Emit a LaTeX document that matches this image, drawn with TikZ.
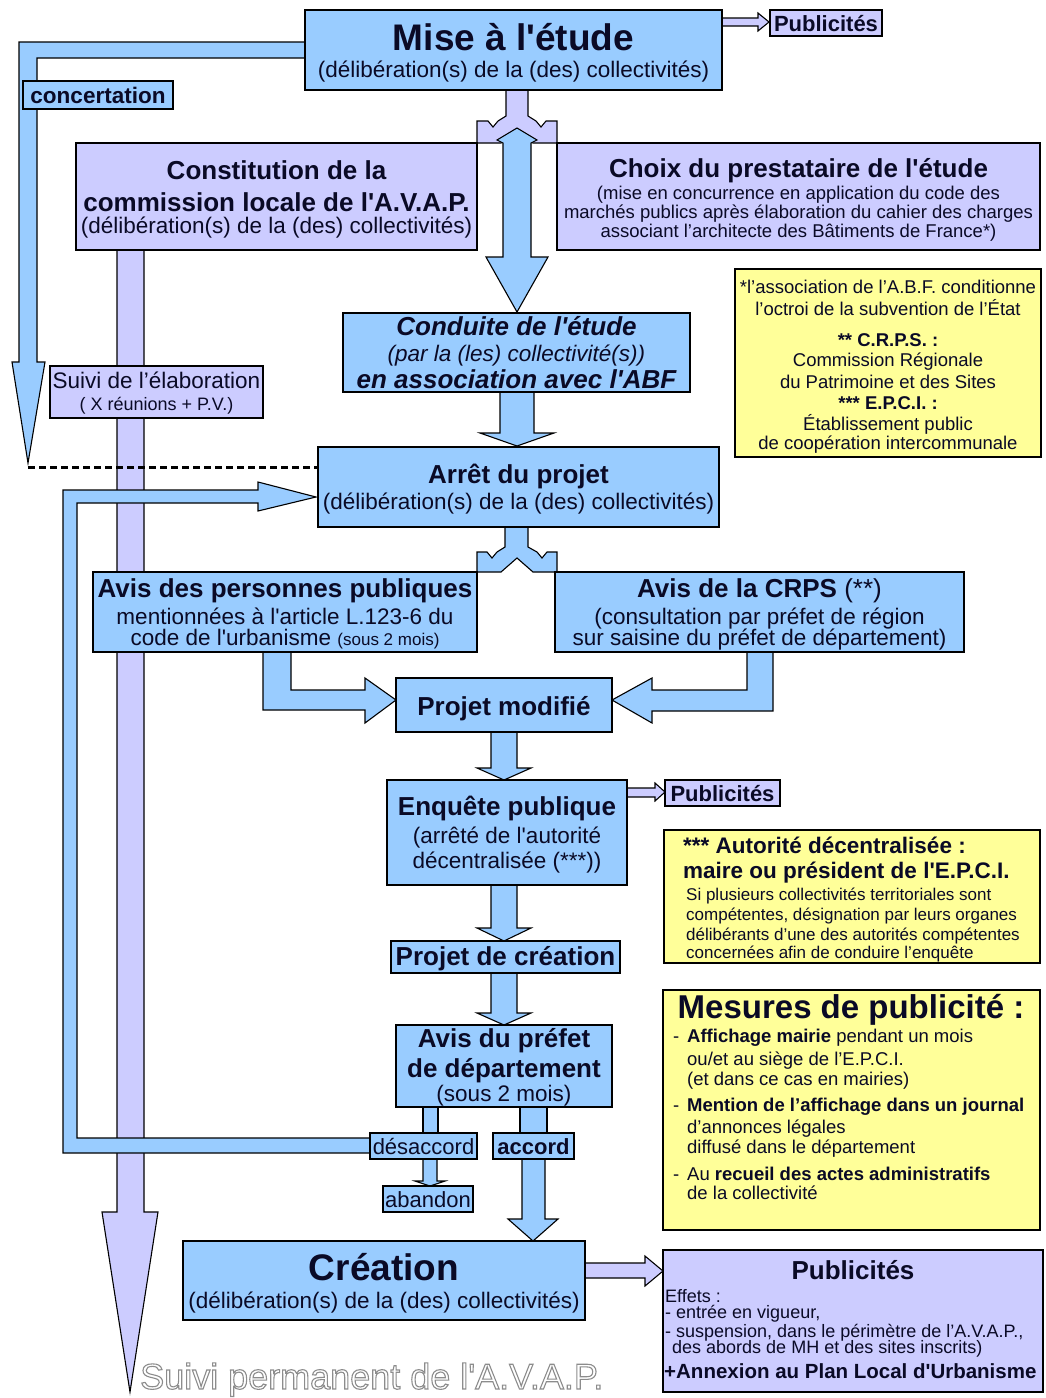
\documentclass[tikz,border=0pt]{standalone}
\usepackage{fontspec}
\setmainfont{Liberation Sans}[Ligatures=TeXOff]
\definecolor{blu}{HTML}{99CCFF}
\definecolor{lav}{HTML}{CCCCFF}
\definecolor{yel}{HTML}{FFFF99}
\definecolor{ink}{HTML}{0A0A26}
\definecolor{outl}{HTML}{8C8C8C}
\newcommand\myfs[1]{\fontsize{#1pt}{#1pt}\selectfont}
\tikzset{
  ashape/.style={draw=black, line width=1.1pt, line join=miter},
  bxbase/.style={draw=black, line width=1.4pt, inner sep=0pt, outer sep=0pt},
  boxb/.style={bxbase, fill=blu},
  boxl/.style={bxbase, fill=lav},
  boxy/.style={bxbase, fill=yel},
  txt/.style={anchor=base, inner sep=0pt, text=ink},
  txtl/.style={anchor=base west, inner sep=0pt, text=ink},
}
\newcommand\boxat[6]{\node[#2, minimum width={(#5)-(#3)}, minimum height={(#6)-(#4)}] (#1) at ({((#3)+(#5))/2},{((#4)+(#6))/2}) {};}
\newcommand\tline[5]{\node[txt,font=#4] (#1) at (#2,#3) {#5};}
\newcommand\tlineL[5]{\node[txtl,font=#4] (#1) at (#2,#3) {#5};}
\begin{document}
\begin{tikzpicture}[x=1pt,y=-1pt]
\useasboundingbox (0,0) rectangle (1045,1398);
\fill[white] (0,0) rectangle (1045,1398);

% ---- background block arrows ----
% concertation arrow
\draw[ashape,fill=blu] (310,42) -- (19,42) -- (19,362) -- (12,362) -- (28,463) -- (45,362) -- (37,362) -- (37,58) -- (310,58) -- cycle;
% suivi permanent (lavender) arrow
\draw[ashape,fill=lav] (117,248) -- (117,1212) -- (102,1212) -- (130,1392) -- (158,1212) -- (144,1212) -- (144,248) -- cycle;
% return loop (desaccord -> arret)
\draw[ashape,fill=blu] (372,1138) -- (77,1138) -- (77,503) -- (258,503) -- (258,511) -- (316,497) -- (258,482) -- (258,490) -- (63,490) -- (63,1153) -- (372,1153) -- cycle;
% split arrow under Mise a l'etude
\draw[ashape,fill=lav] (506,88) -- (506,116) -- (498,121) -- (493,127) -- (488,121) -- (477,121) -- (477,143) -- (501,143) -- (509,137) -- (517,131) -- (525,137) -- (533,143) -- (557,143) -- (557,121) -- (546,121) -- (541,127) -- (536,121) -- (528,116) -- (528,88) -- cycle;
% double arrow to Conduite
\draw[ashape,fill=blu] (503,143) -- (497,140) -- (517,128) -- (537,140) -- (531,143) -- (531,257) -- (548,257) -- (517,312) -- (486,257) -- (503,257) -- cycle;
% Conduite -> Arret
\draw[ashape,fill=blu] (500,390) -- (500,433) -- (480,433) -- (517,446) -- (554,433) -- (534,433) -- (534,390) -- cycle;
% split arrow under Arret
\draw[ashape,fill=blu] (505,525) -- (505,547) -- (497,552) -- (492,558) -- (487,552) -- (477,552) -- (477,572) -- (501,572) -- (509,565) -- (517,558) -- (525,565) -- (533,572) -- (557,572) -- (557,552) -- (547,552) -- (542,558) -- (537,552) -- (528,547) -- (528,525) -- cycle;
% L arrows to Projet modifie
\draw[ashape,fill=blu] (263,650) -- (263,710) -- (365,710) -- (365,723) -- (396,700) -- (365,678) -- (365,690) -- (291,690) -- (291,650) -- cycle;
\draw[ashape,fill=blu] (773,650) -- (773,711) -- (652,711) -- (652,723) -- (612,700) -- (652,678) -- (652,690) -- (747,690) -- (747,650) -- cycle;
% vertical chain
\draw[ashape,fill=blu] (491,730) -- (491,768) -- (477,768) -- (504,780) -- (531,768) -- (517,768) -- (517,730) -- cycle;
\draw[ashape,fill=blu] (491,883) -- (491,928) -- (477,928) -- (504,941) -- (531,928) -- (517,928) -- (517,883) -- cycle;
\draw[ashape,fill=blu] (491,971) -- (491,1013) -- (477,1013) -- (504,1025) -- (531,1013) -- (517,1013) -- (517,971) -- cycle;
\draw[ashape,fill=blu] (423,1105) rectangle (438,1135);
\draw[ashape,fill=blu] (520,1105) rectangle (547,1135);
\draw[ashape,fill=blu] (522,1157) -- (522,1219) -- (508,1219) -- (533,1241) -- (558,1219) -- (545,1219) -- (545,1157) -- cycle;
\draw[ashape,fill=blu] (423,1157) -- (423,1181) -- (415,1181) -- (430,1186) -- (445,1181) -- (437,1181) -- (437,1157) -- cycle;
% Publicites arrows
\draw[ashape,fill=lav] (720,18) -- (758,18) -- (758,13) -- (769,22) -- (758,31) -- (758,26) -- (720,26) -- cycle;
\draw[ashape,fill=lav] (625,788) -- (655,788) -- (655,783) -- (665,792) -- (655,801) -- (655,797) -- (625,797) -- cycle;
\draw[ashape,fill=lav] (583,1263) -- (645,1263) -- (645,1256) -- (663,1271) -- (645,1286) -- (645,1278) -- (583,1278) -- cycle;

% ---- boxes ----
\boxat{mise}{boxb}{305}{10}{722}{90}
\boxat{pubA}{boxl}{770}{10}{882}{36}
\boxat{conc}{boxb}{23}{81}{173}{109}
\boxat{const}{boxl}{76}{143}{477}{250}
\boxat{choix}{boxl}{557}{143}{1040}{250}
\boxat{noteA}{boxy}{735}{269}{1041}{457}
\boxat{cond}{boxb}{343}{313}{690}{392}
\boxat{suivi}{boxl}{50}{366}{263}{418}
\boxat{arret}{boxb}{318}{447}{719}{527}
\boxat{avpp}{boxb}{93}{572}{477}{652}
\boxat{crps}{boxb}{555}{572}{964}{652}
\boxat{pmod}{boxb}{396}{678}{612}{732}
\boxat{enq}{boxb}{387}{780}{627}{885}
\boxat{pubB}{boxl}{665}{780}{780}{806}
\boxat{noteB}{boxy}{664}{830}{1040}{963}
\boxat{pcrea}{boxb}{391}{941}{620}{973}
\boxat{apref}{boxb}{396}{1025}{612}{1107}
\boxat{desac}{boxb}{370}{1133}{477}{1159}
\boxat{accord}{boxb}{493}{1133}{574}{1159}
\boxat{aband}{boxb}{383}{1186}{473}{1212}
\boxat{noteC}{boxy}{663}{990}{1040}{1230}
\boxat{crea}{boxb}{183}{1241}{585}{1320}
\boxat{pubC}{boxl}{663}{1250}{1043}{1392}

% dashed link from concertation arrow tip to Arret
\coordinate (ctip) at (28,467);
\draw[line width=3pt, dash pattern=on 7pt off 4pt] (ctip) -- (ctip -| arret.west);

% ---- texts ----
\tline{miseA}{513.5}{50}{\myfs{37}\bfseries}{Mise à l'étude}
\tline{miseB}{513.5}{77}{\myfs{22.5}}{(délibération(s) de la (des) collectivités)}
\tline{pubAt}{826}{31}{\myfs{22}\bfseries}{Publicités}
\tline{conct}{98}{103}{\myfs{22.5}\bfseries}{concertation}

\tline{constA}{276.5}{179}{\myfs{26}\bfseries}{Constitution de la}
\tline{constB}{276.5}{211}{\myfs{26}\bfseries}{commission locale de l'A.V.A.P.}
\tline{constC}{276.5}{233}{\myfs{22.5}}{(délibération(s) de la (des) collectivités)}

\tline{choixA}{798.5}{177}{\myfs{26}\bfseries}{Choix du prestataire de l'étude}
\tline{choixB}{798.5}{199}{\myfs{18.5}}{(mise en concurrence en application du code des}
\tline{choixC}{798.5}{218}{\myfs{18.5}}{marchés publics après élaboration du cahier des charges}
\tline{choixD}{798.5}{237}{\myfs{18.5}}{associant l’architecte des Bâtiments de France*)}

\tline{nA1}{888}{293}{\myfs{18.5}}{*l’association de l’A.B.F. conditionne}
\tline{nA2}{888}{315}{\myfs{18.5}}{l’octroi de la subvention de l’État}
\tline{nA3}{888}{346}{\myfs{18.5}\bfseries}{** C.R.P.S. :}
\tline{nA4}{888}{366}{\myfs{18.5}}{Commission Régionale}
\tline{nA5}{888}{388}{\myfs{18.5}}{du Patrimoine et des Sites}
\tline{nA6}{888}{409}{\myfs{18.5}\bfseries}{*** E.P.C.I. :}
\tline{nA7}{888}{430}{\myfs{18.5}}{Établissement public}
\tline{nA8}{888}{449}{\myfs{18.5}}{de coopération intercommunale}

\tline{condA}{516.5}{335}{\myfs{26}\bfseries\itshape}{Conduite de l'étude}
\tline{condB}{516.5}{361}{\myfs{22.5}\itshape}{(par la (les) collectivité(s))}
\tline{condC}{516.5}{388}{\myfs{26}\bfseries\itshape}{en association avec l'ABF}

\tline{suiviA}{156.5}{388}{\myfs{22.5}}{Suivi de l’élaboration}
\tline{suiviB}{156.5}{410}{\myfs{18}}{( X réunions + P.V.)}

\tline{arretA}{518.5}{483}{\myfs{26}\bfseries}{Arrêt du projet}
\tline{arretB}{518.5}{509}{\myfs{22.5}}{(délibération(s) de la (des) collectivités)}

\tline{avppA}{285}{597}{\myfs{26}\bfseries}{Avis des personnes publiques}
\tline{avppB}{285}{624}{\myfs{22.5}}{mentionnées à l'article L.123-6 du}
\tline{avppC}{285}{645}{\myfs{22.5}}{code de l'urbanisme {\myfs{17}(sous 2 mois)}}

\tline{crpsA}{759.5}{597}{\myfs{26}}{{\bfseries Avis de la CRPS} (**)}
\tline{crpsB}{759.5}{624}{\myfs{22.5}}{(consultation par préfet de région}
\tline{crpsC}{759.5}{645}{\myfs{22.5}}{sur saisine du préfet de département)}

\tline{pmodA}{504}{715}{\myfs{26}\bfseries}{Projet modifié}

\tline{enqA}{507}{815}{\myfs{26}\bfseries}{Enquête publique}
\tline{enqB}{507}{843}{\myfs{22.5}}{(arrêté de l'autorité}
\tline{enqC}{507}{868}{\myfs{22.5}}{décentralisée (***))}
\tline{pubBt}{722.5}{801}{\myfs{22}\bfseries}{Publicités}

\tlineL{nB1}{683}{853}{\myfs{22.5}\bfseries}{*** Autorité décentralisée :}
\tlineL{nB2}{683}{878}{\myfs{22.5}\bfseries}{maire ou président de l'E.P.C.I.}
\tlineL{nB3}{686}{900}{\myfs{17}}{Si plusieurs collectivités territoriales sont}
\tlineL{nB4}{686}{920}{\myfs{17}}{compétentes, désignation par leurs organes}
\tlineL{nB5}{686}{940}{\myfs{17}}{délibérants d’une des autorités compétentes}
\tlineL{nB6}{686}{958}{\myfs{17}}{concernées afin de conduire l’enquête}

\tline{pcreaA}{505.5}{965}{\myfs{26}\bfseries}{Projet de création}

\tline{aprefA}{504}{1047}{\myfs{26}\bfseries}{Avis du préfet}
\tline{aprefB}{504}{1077}{\myfs{26}\bfseries}{de département}
\tline{aprefC}{504}{1101}{\myfs{22.5}}{(sous 2 mois)}

\tline{desacT}{423.5}{1154}{\myfs{22}}{désaccord}
\tline{accordT}{533.5}{1154}{\myfs{22}\bfseries}{accord}
\tline{abandT}{428}{1207}{\myfs{22}}{abandon}

\tline{nC0}{851}{1018}{\myfs{33}\bfseries}{Mesures de publicité :}
\tlineL{nCd1}{673}{1042}{\myfs{18.5}}{-}
\tlineL{nC1}{687}{1042}{\myfs{18.5}}{{\bfseries Affichage mairie} pendant un mois}
\tlineL{nC2}{687}{1065}{\myfs{18.5}}{ou/et au siège de l’E.P.C.I.}
\tlineL{nC3}{687}{1085}{\myfs{18.5}}{(et dans ce cas en mairies)}
\tlineL{nCd2}{673}{1111}{\myfs{18.5}}{-}
\tlineL{nC4}{687}{1111}{\myfs{18.5}\bfseries}{Mention de l’affichage dans un journal}
\tlineL{nC5}{687}{1133}{\myfs{18.5}}{d’annonces légales}
\tlineL{nC6}{687}{1153}{\myfs{18.5}}{diffusé dans le département}
\tlineL{nCd3}{673}{1180}{\myfs{18.5}}{-}
\tlineL{nC7}{687}{1180}{\myfs{18.5}}{Au {\bfseries recueil des actes administratifs}}
\tlineL{nC8}{687}{1199}{\myfs{18.5}}{de la collectivité}

\tline{creaA}{384}{1280}{\myfs{37}\bfseries}{Création}
\tline{creaB}{384}{1308}{\myfs{22.5}}{(délibération(s) de la (des) collectivités)}

\tline{pubC0}{853}{1279}{\myfs{26}\bfseries}{Publicités}
\tlineL{pubC1}{665}{1302}{\myfs{18}}{Effets :}
\tlineL{pubC2}{665}{1318}{\myfs{18}}{- entrée en vigueur,}
\tlineL{pubC3}{665}{1337}{\myfs{18}}{- suspension, dans le périmètre de l’A.V.A.P.,}
\tlineL{pubC4}{672}{1353}{\myfs{18}}{des abords de MH et des sites inscrits)}
\tlineL{pubC5}{664}{1378}{\myfs{20.5}\bfseries}{+Annexion au Plan Local d'Urbanisme}

% outlined caption (drawn last)
\node[txtl, font=\myfs{36}, text=outl] (perm) at (140,1389) {\special{pdf:literal direct 1 Tr 1.1 w}Suivi permanent de l'A.V.A.P.\special{pdf:literal direct 0 Tr}};
\end{tikzpicture}
\end{document}
